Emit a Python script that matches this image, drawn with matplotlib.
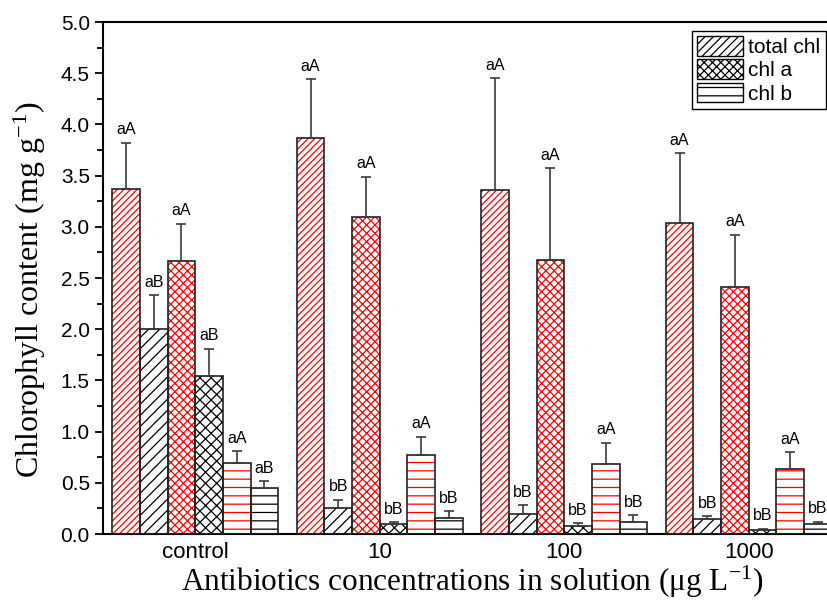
import numpy as np
import matplotlib
matplotlib.use('Agg')
import matplotlib.pyplot as plt
from matplotlib.patches import Patch

plt.rcParams['font.family'] = ['Liberation Sans', 'DejaVu Sans']
plt.rcParams['mathtext.fontset'] = 'custom'
plt.rcParams['mathtext.rm'] = 'Liberation Serif'
plt.rcParams['mathtext.it'] = 'Liberation Serif:italic'
plt.rcParams['hatch.linewidth'] = 0.9

groups = ['control', '10', '100', '1000']

# red = first treatment, black = second treatment
total_red = [3.37, 3.87, 3.36, 3.04]
total_red_err = [0.45, 0.57, 1.09, 0.68]
total_black = [2.00, 0.25, 0.20, 0.15]
total_black_err = [0.33, 0.085, 0.08, 0.023]
chla_red = [2.67, 3.10, 2.68, 2.41]
chla_red_err = [0.36, 0.39, 0.89, 0.51]
chla_black = [1.54, 0.095, 0.08, 0.042]
chla_black_err = [0.27, 0.02, 0.025, 0.01]
chlb_red = [0.69, 0.77, 0.68, 0.63]
chlb_red_err = [0.12, 0.18, 0.21, 0.17]
chlb_black = [0.45, 0.16, 0.12, 0.095]
chlb_black_err = [0.065, 0.062, 0.065, 0.022]

letters_total_red = ['aA', 'aA', 'aA', 'aA']
letters_total_black = ['aB', 'bB', 'bB', 'bB']
letters_chla_red = ['aA', 'aA', 'aA', 'aA']
letters_chla_black = ['aB', 'bB', 'bB', 'bB']
letters_chlb_red = ['aA', 'aA', 'aA', 'aA']
letters_chlb_black = ['aB', 'bB', 'bB', 'bB']

series = [
    (total_red, total_red_err, letters_total_red, 'red', '/////'),
    (total_black, total_black_err, letters_total_black, 'black', '///'),
    (chla_red, chla_red_err, letters_chla_red, 'red', 'xxxx'),
    (chla_black, chla_black_err, letters_chla_black, 'black', 'xxx'),
    (chlb_red, chlb_red_err, letters_chlb_red, 'red', '--'),
    (chlb_black, chlb_black_err, letters_chlb_black, 'black', '--'),
]

fig = plt.figure(figsize=(8.28, 6), dpi=100)
ax = fig.add_axes([0.1244, 0.11, 0.8913, 0.8533])

ind = np.arange(len(groups))
width = 0.15

for i, (vals, errs, letters, col, hatch) in enumerate(series):
    x = ind + (i - 2.5) * width
    # hatch in colour, outline in black
    ax.bar(x, vals, width, facecolor='white', edgecolor=col, hatch=hatch,
           linewidth=0, zorder=2)
    ax.bar(x, vals, width, fill=False, edgecolor='#222222', linewidth=1.2,
           zorder=3)
    ax.errorbar(x, vals, yerr=[np.zeros(len(vals)), errs], fmt='none',
                ecolor='#3a3a3a', elinewidth=1.2, capsize=3.5, capthick=1.2,
                zorder=4)
    for xi, v, e, lab in zip(x, vals, errs, letters):
        ax.annotate(lab, (xi, v + e), xytext=(0, 4), textcoords='offset points',
                    ha='center', va='bottom', fontsize=11.5)

ax.set_xlim(-0.5, 3.5)
ax.set_ylim(0, 5.0)
ax.set_yticks(np.arange(0, 5.01, 0.5))
ax.set_yticks(np.arange(0.25, 5.0, 0.5), minor=True)
ax.yaxis.set_major_formatter(matplotlib.ticker.FormatStrFormatter('%.1f'))
ax.set_xticks(ind)
ax.set_xticklabels(groups)
ax.tick_params(axis='x', length=0, labelsize=16, pad=6)
ax.tick_params(axis='y', which='major', direction='out', length=6, width=1.3,
               labelsize=15)
ax.tick_params(axis='y', which='minor', direction='out', length=4, width=1.3)
for sp in ax.spines.values():
    sp.set_linewidth(1.5)

ax.set_ylabel('Chlorophyll content (mg g$^{-1}$)', family='Liberation Serif',
              fontsize=23)
ax.yaxis.set_label_coords(-0.075, 0.477)
ax.set_xlabel('Antibiotics concentrations in solution (\u03bcg L$^{-1}$)',
              family='Liberation Serif', fontsize=22.5, labelpad=0)

handles = [Patch(facecolor='white', edgecolor='black', hatch='////', lw=1.0),
           Patch(facecolor='white', edgecolor='black', hatch='xxxx', lw=1.0),
           Patch(facecolor='white', edgecolor='black', hatch='--', lw=1.0)]
leg = ax.legend(handles, ['total chl', 'chl a', 'chl b'], loc='upper left',
                bbox_to_anchor=(692 / 828, 1 - 31 / 600),
                bbox_transform=fig.transFigure, borderaxespad=0,
                fancybox=False, framealpha=1, edgecolor='black', fontsize=15,
                handlelength=2.2, handleheight=1.05, labelspacing=0.12,
                handletextpad=0.25, borderpad=0.25)
leg.get_frame().set_linewidth(1.0)

plt.savefig('out.png', dpi=100)
